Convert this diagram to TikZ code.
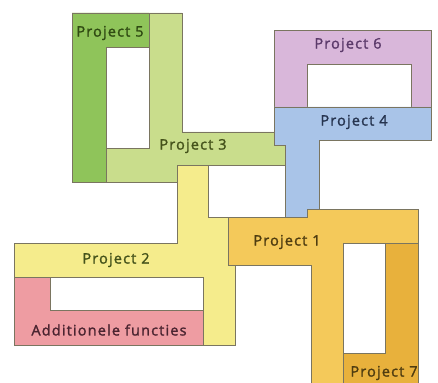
\documentclass[tikz,border=0pt]{standalone}
\usepackage{fontspec}
\setmainfont{Open Sans}[FakeBold=1.6, LetterSpace=8]
\definecolor{cDkGreen}{HTML}{8FC45A}
\definecolor{cLtGreen}{HTML}{C9DD8C}
\definecolor{cLilac}{HTML}{D9B7DA}
\definecolor{cBlue}{HTML}{A9C4E8}
\definecolor{cYellow}{HTML}{F5EC8C}
\definecolor{cOrange}{HTML}{F4C95A}
\definecolor{cDkOrange}{HTML}{E8B13C}
\definecolor{cRed}{HTML}{EE9CA2}
\definecolor{cEdge}{HTML}{7A7560}
\definecolor{tGreen}{HTML}{2F4A12}
\definecolor{tOlive}{HTML}{44521A}
\definecolor{tPurple}{HTML}{5B3A6A}
\definecolor{tNavy}{HTML}{26344F}
\definecolor{tBrown}{HTML}{4E3C10}
\definecolor{tRed}{HTML}{4A2430}
\tikzset{
  area/.style={draw=cEdge, line width=0.8pt, line join=miter},
  hole/.style={area, fill=white},
  lbl/.style={font=\fontsize{14.5}{16}\selectfont, inner sep=0pt, anchor=center}
}
\begin{document}
\begin{tikzpicture}[x=1pt,y=-1pt]
\useasboundingbox (0,0) rectangle (438,382);
\clip (0,0) rectangle (438,382);
% Project 2 (yellow)
\path[area, fill=cYellow] (177,165) -- (208,165) -- (208,217) -- (235,217) -- (235,345) -- (14,345) -- (14,243) -- (177,243) -- cycle;
\path[hole] (50,277) rectangle (203,310);
% Additionele functies (red)
\path[area, fill=cRed] (14,277) -- (50,277) -- (50,310) -- (203,310) -- (203,345) -- (14,345) -- cycle;
% Project 3 (light green)
\path[area, fill=cLtGreen] (72,13) -- (182,13) -- (182,132) -- (274,132) -- (274,145) -- (285,145) -- (285,165) -- (177,165) -- (177,182) -- (72,182) -- cycle;
\path[hole] (106,47) rectangle (149,148);
% Project 5 (dark green)
\path[area, fill=cDkGreen] (72,13) -- (149,13) -- (149,47) -- (106,47) -- (106,182) -- (72,182) -- cycle;
% Project 6 (lilac)
\path[area, fill=cLilac] (274,30) rectangle (431,107);
\path[hole] (307,64) rectangle (411,107);
% Project 4 (blue)
\path[area, fill=cBlue] (274,107) -- (431,107) -- (431,140) -- (319,140) -- (319,217) -- (285,217) -- (285,145) -- (274,145) -- cycle;
% Project 1 (orange)
\path[area, fill=cOrange] (307,209) -- (418,209) -- (418,392) -- (311,392) -- (311,265) -- (228,265) -- (228,217) -- (307,217) -- cycle;
\path[hole] (343,243) rectangle (385,353);
% Project 7 (dark orange)
\path[area, fill=cDkOrange] (385,243) -- (418,243) -- (418,392) -- (343,392) -- (343,353) -- (385,353) -- cycle;
% labels
\node[lbl, text=tGreen] (p5) at (110,33) {Project 5};
\node[lbl, text=tOlive] (p3) at (193,146) {Project 3};
\node[lbl, text=tPurple] (p6) at (348,45) {Project 6};
\node[lbl, text=tNavy] (p4) at (354,122) {Project 4};
\node[lbl, text=tBrown] (p1) at (287,242) {Project 1};
\node[lbl, text=tOlive] (p2) at (116,260) {Project 2};
\node[lbl, text=tRed] (af) at (109,330) {Additionele functies};
\node[lbl, text=tBrown] (p7) at (384,373) {Project 7};
\end{tikzpicture}
\end{document}
